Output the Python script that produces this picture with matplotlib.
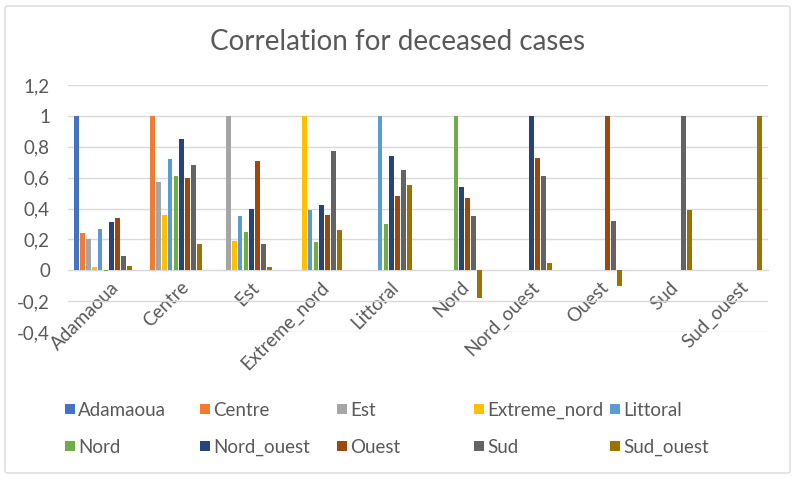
import matplotlib
matplotlib.use('Agg')
import matplotlib.pyplot as plt
import matplotlib.transforms as mtransforms
from matplotlib.patches import FancyBboxPatch, Rectangle
import numpy as np

# Region names (categories and series are the same list).
regions = ['Adamaoua', 'Centre', 'Est', 'Extreme_nord', 'Littoral',
           'Nord', 'Nord_ouest', 'Ouest', 'Sud', 'Sud_ouest']

# Upper triangle of the correlation matrix, one row per region,
# starting at the diagonal.
adamaoua = [1.00, 0.24, 0.20, 0.02, 0.27, -0.005, 0.31, 0.34, 0.09, 0.03]
centre = [1.00, 0.57, 0.36, 0.72, 0.61, 0.85, 0.60, 0.68, 0.17]
est = [1.00, 0.19, 0.35, 0.25, 0.40, 0.71, 0.17, 0.02]
extreme_nord = [1.00, 0.39, 0.18, 0.42, 0.36, 0.77, 0.26]
littoral = [1.00, 0.30, 0.74, 0.48, 0.65, 0.55]
nord = [1.00, 0.54, 0.47, 0.35, -0.18]
nord_ouest = [1.00, 0.73, 0.61, 0.05]
ouest = [1.00, 0.32, -0.10]
sud = [1.00, 0.39]
sud_ouest = [1.00]

y_ticks = [-0.4, -0.2, 0, 0.2, 0.4, 0.6, 0.8, 1.0, 1.2]

colors = ['#4472C4', '#ED7D31', '#A5A5A5', '#FFC000', '#5B9BD5',
          '#70AD47', '#264478', '#9E480E', '#636363', '#997300']

TEXT = '#595959'
GRID = '#D9D9D9'
FONT = 'Lato'

plt.rcParams['font.family'] = [FONT, 'DejaVu Sans']


def main():
    rows = [adamaoua, centre, est, extreme_nord, littoral,
            nord, nord_ouest, ouest, sud, sud_ouest]

    W, H = 797, 479
    fig = plt.figure(figsize=(W / 100, H / 100), dpi=100)

    # Chart area border.
    fig.add_artist(FancyBboxPatch((5 / W, 6 / H), 785 / W, 467 / H,
                                  boxstyle='round,pad=0,rounding_size=0.004',
                                  transform=fig.transFigure, fill=False,
                                  edgecolor=GRID, linewidth=1.0))

    ax = fig.add_axes([68 / W, 1 - 332 / H, 700 / W, 247 / H])

    n = len(regions)
    slot = 0.0843
    bar_w = 0.068
    x = np.arange(n)
    for k in range(n):
        xs, vals = [], []
        for i in range(k + 1):
            xs.append(x[i] + (k - (n - 1) / 2) * slot)
            vals.append(rows[i][k - i])
        ax.bar(xs, vals, width=bar_w, color=colors[k], zorder=3,
               label=regions[k])

    ax.set_xlim(-0.5, n - 0.5)
    ax.set_ylim(-0.4, 1.2)
    ax.set_yticks(y_ticks)
    ax.set_yticklabels([f'{v:g}'.replace('.', ',') for v in y_ticks],
                       color=TEXT, fontsize=13.5)
    ax.yaxis.grid(True, color=GRID, linewidth=1.0, zorder=0)
    ax.tick_params(axis='y', length=0, pad=13)

    for side in ['left', 'right', 'top']:
        ax.spines[side].set_visible(False)
    ax.spines['bottom'].set_position(('data', 0))
    ax.spines['bottom'].set_color(GRID)
    ax.spines['bottom'].set_zorder(2)

    ax.set_xticks(x)
    ax.set_xticklabels(regions, rotation=45, ha='right', va='top',
                       rotation_mode='anchor', color=TEXT, fontsize=13.5)
    ax.tick_params(axis='x', length=0, pad=6)
    offset = mtransforms.ScaledTranslation(7 / 100, 0, fig.dpi_scale_trans)
    for lbl in ax.get_xticklabels():
        lbl.set_transform(lbl.get_transform() + offset)

    fig.text(398 / W, 1 - 42 / H, 'Correlation for deceased cases',
             ha='center', va='center', fontsize=20, color=TEXT)

    # Legend, two rows of five equal-width columns.
    col_x = [65, 200, 337, 474, 610]
    row_y = [409, 446]
    sq = 10
    for k, name in enumerate(regions):
        cx = col_x[k % 5]
        cy = row_y[k // 5]
        fig.add_artist(Rectangle((cx / W, 1 - (cy + sq / 2) / H),
                                 sq / W, sq / H, transform=fig.transFigure,
                                 facecolor=colors[k], edgecolor='none'))
        fig.text((cx + sq + 3) / W, 1 - cy / H, name, ha='left',
                 va='center_baseline', fontsize=13.5, color=TEXT)

    fig.savefig('out.png', dpi=100)
    plt.close(fig)


if __name__ == '__main__':
    main()
